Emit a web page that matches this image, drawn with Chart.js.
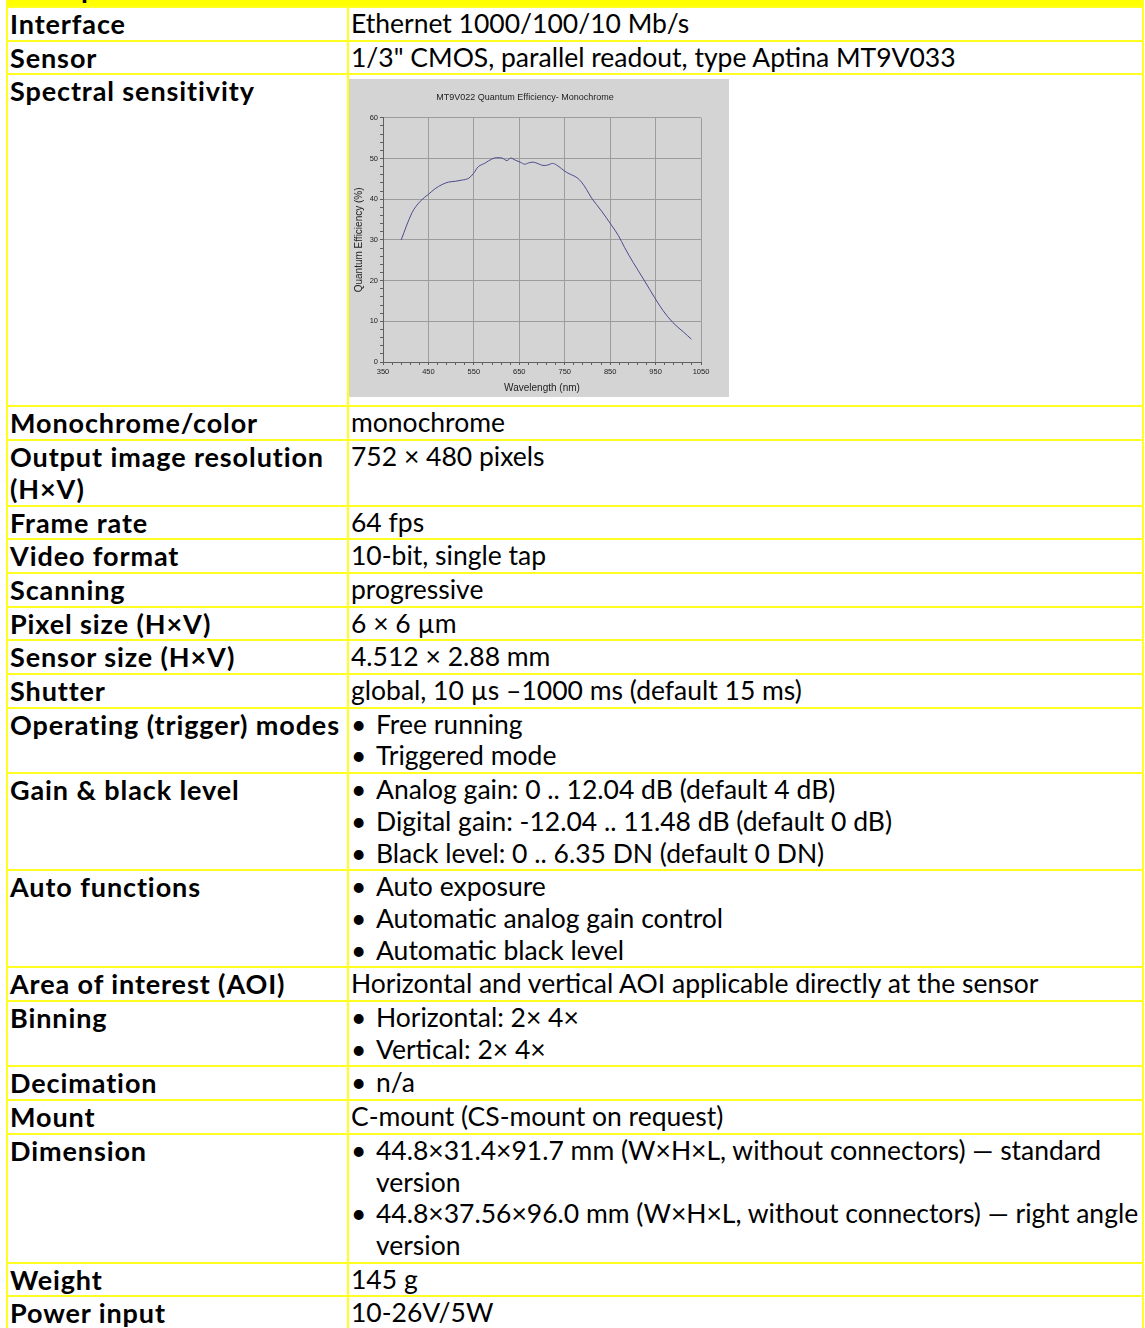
<!doctype html>
<html lang="en">
<head>
<meta charset="utf-8">
<title>Specifications</title>
<script src="https://cdn.jsdelivr.net/npm/chart.js@4.4.0/dist/chart.umd.min.js"></script>
<style>
  body { margin: 0; background: #fff; overflow: hidden; }
  table.spec {
    border-collapse: collapse;
    margin: -32px 0 0 6px;
    width: 1138px;
    font-family: Lato, "Noto Sans", sans-serif;
    font-size: 26.5px;
    line-height: 31.7px;
    color: #000;
  }
  table.spec td, table.spec th {
    border: 2px solid #ffff22;
    padding: 0 0 0 2px;
    vertical-align: top;
    text-align: left;
    white-space: nowrap;
    overflow: hidden;
  }
  table.spec th { width: 337px; font-weight: bold; font-size: 27px; letter-spacing: 0.9px; }
  table.spec tr.head td {
    background: #ffff00;
    height: 36px;
    font-weight: bold;
    font-size: 28px;
    line-height: 22px;
    vertical-align: bottom;
    padding-left: 58px;
  }
  table.spec tr.head span { position: relative; top: -8px; }
  .b { display: flex; }
  .b span.dot { width: 25px; flex: none; }
  .plotcell { height: 330px; padding: 0 !important; }
  .plotbox { margin-top: 4px; width: 380px; height: 318px; background: #d4d4d4; }
</style>
</head>
<body>

<table class="spec">
  <tr class="head"><td colspan="2"><span>Specifications</span></td></tr>
  <tr><th>Interface</th><td>Ethernet 1000/100/10 Mb/s</td></tr>
  <tr><th>Sensor</th><td>1/3" CMOS, parallel readout, type Aptina MT9V033</td></tr>
  <tr><th>Spectral sensitivity</th><td class="plotcell"><div class="plotbox"><canvas id="qe" width="380" height="318"></canvas></div></td></tr>
  <tr><th>Monochrome/color</th><td>monochrome</td></tr>
  <tr><th>Output image resolution<br>(H×V)</th><td>752 × 480 pixels</td></tr>
  <tr><th>Frame rate</th><td>64 fps</td></tr>
  <tr><th>Video format</th><td>10-bit, single tap</td></tr>
  <tr><th>Scanning</th><td>progressive</td></tr>
  <tr><th>Pixel size (H×V)</th><td>6 × 6 µm</td></tr>
  <tr><th>Sensor size (H×V)</th><td>4.512 × 2.88 mm</td></tr>
  <tr><th>Shutter</th><td>global, 10 µs –1000 ms (default 15 ms)</td></tr>
  <tr><th>Operating (trigger) modes</th><td>
    <div class="b"><span class="dot">•</span><span>Free running</span></div>
    <div class="b"><span class="dot">•</span><span>Triggered mode</span></div></td></tr>
  <tr><th>Gain &amp; black level</th><td>
    <div class="b"><span class="dot">•</span><span>Analog gain: 0 .. 12.04 dB (default 4 dB)</span></div>
    <div class="b"><span class="dot">•</span><span>Digital gain: -12.04 .. 11.48 dB (default 0 dB)</span></div>
    <div class="b"><span class="dot">•</span><span>Black level: 0 .. 6.35 DN (default 0 DN)</span></div></td></tr>
  <tr><th>Auto functions</th><td>
    <div class="b"><span class="dot">•</span><span>Auto exposure</span></div>
    <div class="b"><span class="dot">•</span><span>Automatic analog gain control</span></div>
    <div class="b"><span class="dot">•</span><span>Automatic black level</span></div></td></tr>
  <tr><th>Area of interest (AOI)</th><td>Horizontal and vertical AOI applicable directly at the sensor</td></tr>
  <tr><th>Binning</th><td>
    <div class="b"><span class="dot">•</span><span>Horizontal: 2× 4×</span></div>
    <div class="b"><span class="dot">•</span><span>Vertical: 2× 4×</span></div></td></tr>
  <tr><th>Decimation</th><td><div class="b"><span class="dot">•</span><span>n/a</span></div></td></tr>
  <tr><th>Mount</th><td>C-mount (CS-mount on request)</td></tr>
  <tr><th>Dimension</th><td>
    <div class="b"><span class="dot">•</span><span>44.8×31.4×91.7 mm (W×H×L, without connectors) — standard<br>version</span></div>
    <div class="b"><span class="dot">•</span><span>44.8×37.56×96.0 mm (W×H×L, without connectors) — right angle<br>version</span></div></td></tr>
  <tr><th>Weight</th><td>145 g</td></tr>
  <tr><th>Power input</th><td>10-26V/5W</td></tr>
</table>

<script>
// quantum efficiency curve
const wavelengthNm = [390, 414, 432, 450, 465, 480, 494, 509, 524, 538, 549, 560, 575, 590, 600, 612,
  623, 631, 641, 652, 662, 670, 681, 692, 702, 713, 723, 732, 743, 754, 765, 777, 787, 798, 809,
  831, 853, 868, 882, 901, 926, 948, 966, 988, 1011, 1029];
const quantumEff = [30.0, 36.7, 39.5, 41.2, 42.6, 43.6, 44.2, 44.4, 44.7, 45.1, 46.3, 48.0, 48.9, 49.9, 50.2, 50.1,
  49.5, 50.1, 49.6, 49.1, 48.6, 48.9, 49.1, 48.7, 48.3, 48.4, 48.8, 48.4, 47.5, 46.6, 46.0, 45.3, 44.2, 42.4, 40.3,
  37.1, 33.6, 31.1, 28.1, 24.4, 19.9, 15.8, 12.7, 9.7, 7.4, 5.6];

const xTickLabels = [350, 450, 550, 650, 750, 850, 950, 1050];
const yTickLabels = [0, 10, 20, 30, 40, 50, 60];
const xMinorStep = 20;
const yMinorStep = 2;

function minorTicks(min, max, step) {
  var t = [];
  for (var v = min; v <= max + 1e-9; v += step) t.push({ value: v });
  return t;
}

var gridGray = '#9c9c9c';
var axisDark = '#606060';
var tickFont = { family: 'Liberation Sans', size: 7.5 };

var data = wavelengthNm.map(function (w, i) { return { x: w, y: quantumEff[i] }; });

new Chart(document.getElementById('qe').getContext('2d'), {
  type: 'line',
  data: {
    datasets: [{
      data: data,
      borderColor: '#4b4b8f',
      borderWidth: 1,
      pointRadius: 0,
      tension: 0.35,
      fill: false
    }]
  },
  options: {
    responsive: false,
    animation: false,
    events: [],
    layout: { padding: { left: 0, right: 28, top: 0, bottom: 0 } },
    plugins: {
      legend: { display: false },
      tooltip: { enabled: false },
      title: {
        display: true,
        text: 'MT9V022 Quantum Efficiency- Monochrome',
        color: '#222',
        font: { family: 'Liberation Sans', size: 9, weight: 'normal' },
        padding: { top: 13, bottom: 15 }
      }
    },
    scales: {
      x: {
        type: 'linear',
        min: xTickLabels[0],
        max: xTickLabels[xTickLabels.length - 1],
        afterBuildTicks: function (s) { s.ticks = minorTicks(s.min, s.max, xMinorStep); },
        afterFit: function (s) { s.height = 35; },
        ticks: {
          autoSkip: false,
          maxRotation: 0,
          padding: 2,
          color: '#222',
          font: tickFont,
          callback: function (v) { return xTickLabels.indexOf(v) >= 0 ? String(v) : ''; }
        },
        grid: {
          color: function (c) {
            var v = c.tick && c.tick.value;
            return (xTickLabels.indexOf(v) > 0) ? gridGray : 'rgba(0,0,0,0)';
          },
          tickColor: axisDark,
          tickLength: 3,
          lineWidth: 1
        },
        border: { color: axisDark, width: 1 },
        title: {
          display: true,
          text: 'Wavelength (nm)',
          color: '#222',
          font: { family: 'Liberation Sans', size: 10 },
          padding: { top: 0, bottom: 3 }
        }
      },
      y: {
        min: yTickLabels[0],
        max: yTickLabels[yTickLabels.length - 1],
        afterBuildTicks: function (s) { s.ticks = minorTicks(s.min, s.max, yMinorStep); },
        afterFit: function (s) { s.width = 34; },
        ticks: {
          autoSkip: false,
          padding: 2,
          color: '#222',
          font: tickFont,
          callback: function (v) { return yTickLabels.indexOf(v) >= 0 ? String(v) : ''; }
        },
        grid: {
          color: function (c) {
            var v = c.tick && c.tick.value;
            return (yTickLabels.indexOf(v) > 0) ? gridGray : 'rgba(0,0,0,0)';
          },
          tickColor: axisDark,
          tickLength: 3,
          lineWidth: 1
        },
        border: { color: axisDark, width: 1 },
        title: {
          display: true,
          text: 'Quantum Efficiency (%)',
          color: '#222',
          font: { family: 'Liberation Sans', size: 10 },
          padding: { top: 4, bottom: 0 }
        }
      }
    }
  }
});
</script>
</body>
</html>
